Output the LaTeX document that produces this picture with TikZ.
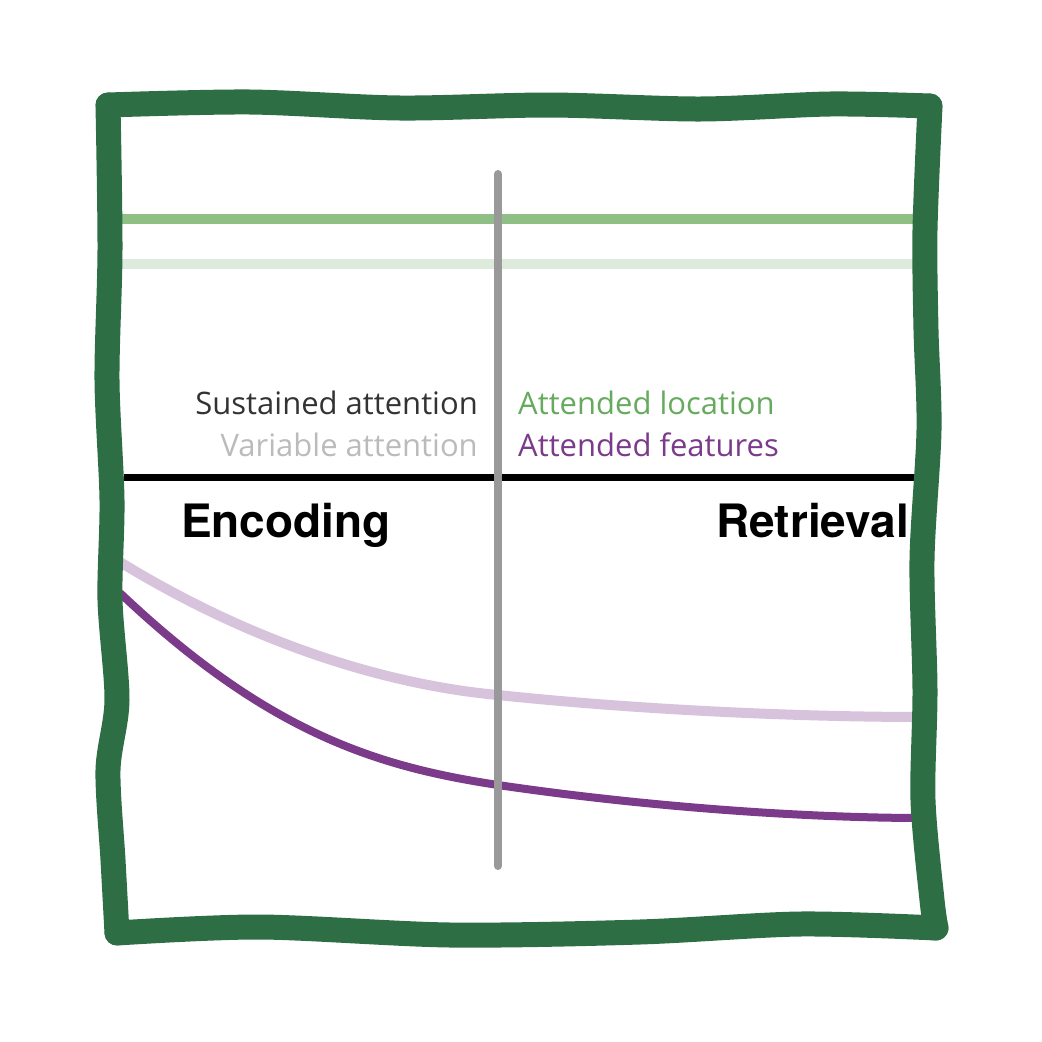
\documentclass[tikz,border=0pt]{standalone}
\usepackage{fontspec}
\setmainfont{Open Sans}
\newfontfamily\headfont{TeX Gyre Heros}
\definecolor{framegreen}{HTML}{2E6E45}
\definecolor{locgreen}{HTML}{8FBF84}
\definecolor{palegreen}{HTML}{DCEBDC}
\definecolor{lightpurple}{HTML}{D8C3DC}
\definecolor{darkpurple}{HTML}{7B3A8A}
\definecolor{txtgreen}{HTML}{66AA5E}
\definecolor{txtgray}{HTML}{BBBBBB}
\definecolor{txtdark}{HTML}{333333}
\definecolor{axisgray}{HTML}{999999}
\begin{document}
\begin{tikzpicture}[x=1pt,y=-1pt,
  lbl/.style={inner sep=0pt,font=\fontsize{31}{37}\selectfont},
  head/.style={inner sep=0pt,font=\headfont\bfseries\fontsize{46}{54}\selectfont},
  framestroke/.style={framegreen,line width=25pt,line cap=round,line join=round}]
\useasboundingbox (0,0) rectangle (1042,1042);
% horizontal reference lines
\coordinate (g1a) at (118,219); \coordinate (g1b) at (924,219);
\coordinate (g2a) at (118,264); \coordinate (g2b) at (924,264);
\draw[locgreen,line width=10pt] (g1a) -- (g1b);
\draw[palegreen,line width=10pt] (g2a) -- (g2b);
% axis
\coordinate (axT) at (498,174); \coordinate (axB) at (498,866);
\coordinate (hlL) at (124,477); \coordinate (hlR) at (924,477);
\draw[black,line width=7pt] (hlL) -- (hlR);
% curves
\coordinate (c1a) at (120,562); \coordinate (c1b) at (924,717);
\coordinate (c2a) at (120,593); \coordinate (c2b) at (924,818);
\draw[lightpurple,line width=10pt] (c1a) .. controls (280,660) and (420,688) .. (498,695) .. controls (640,710) and (800,717) .. (c1b);
\draw[darkpurple,line width=8pt] (c2a) .. controls (270,735) and (380,767) .. (498,785) .. controls (640,806) and (800,818) .. (c2b);
\draw[axisgray,line width=8pt,line cap=round] (axT) -- (axB);
% labels
\node[lbl,anchor=base east,text=txtdark] (sus) at (478,414) {Sustained attention};
\node[lbl,anchor=base east,text=txtgray] (var) at (478,456) {Variable attention};
\node[lbl,anchor=base west,text=txtgreen] (loc) at (518,414) {Attended location};
\node[lbl,anchor=base west,text=darkpurple] (feat) at (518,456) {Attended features};
\node[head,anchor=base west] (enc) at (181,537) {Encoding};
\node[head,anchor=base east] (ret) at (909,537) {Retrieval};
% hand-drawn frame
\draw[framestroke] plot[smooth,tension=0.5] coordinates {(108,105) (250,102) (400,108) (550,105) (700,109) (830,104) (930,106)};
\draw[framestroke] plot[smooth,tension=0.5] coordinates {(930,106) (925,230) (926,330) (929,430) (922,560) (925,690) (923,800) (932,900) (936,928)};
\draw[framestroke] plot[smooth,tension=0.5] coordinates {(936,928) (800,924) (640,932) (450,935) (260,927) (117,933)};
\draw[framestroke] plot[smooth,tension=0.5] coordinates {(117,933) (113,860) (108,770) (117,700) (110,600) (112,500) (107,380) (110,250) (108,105)};
\end{tikzpicture}
\end{document}
